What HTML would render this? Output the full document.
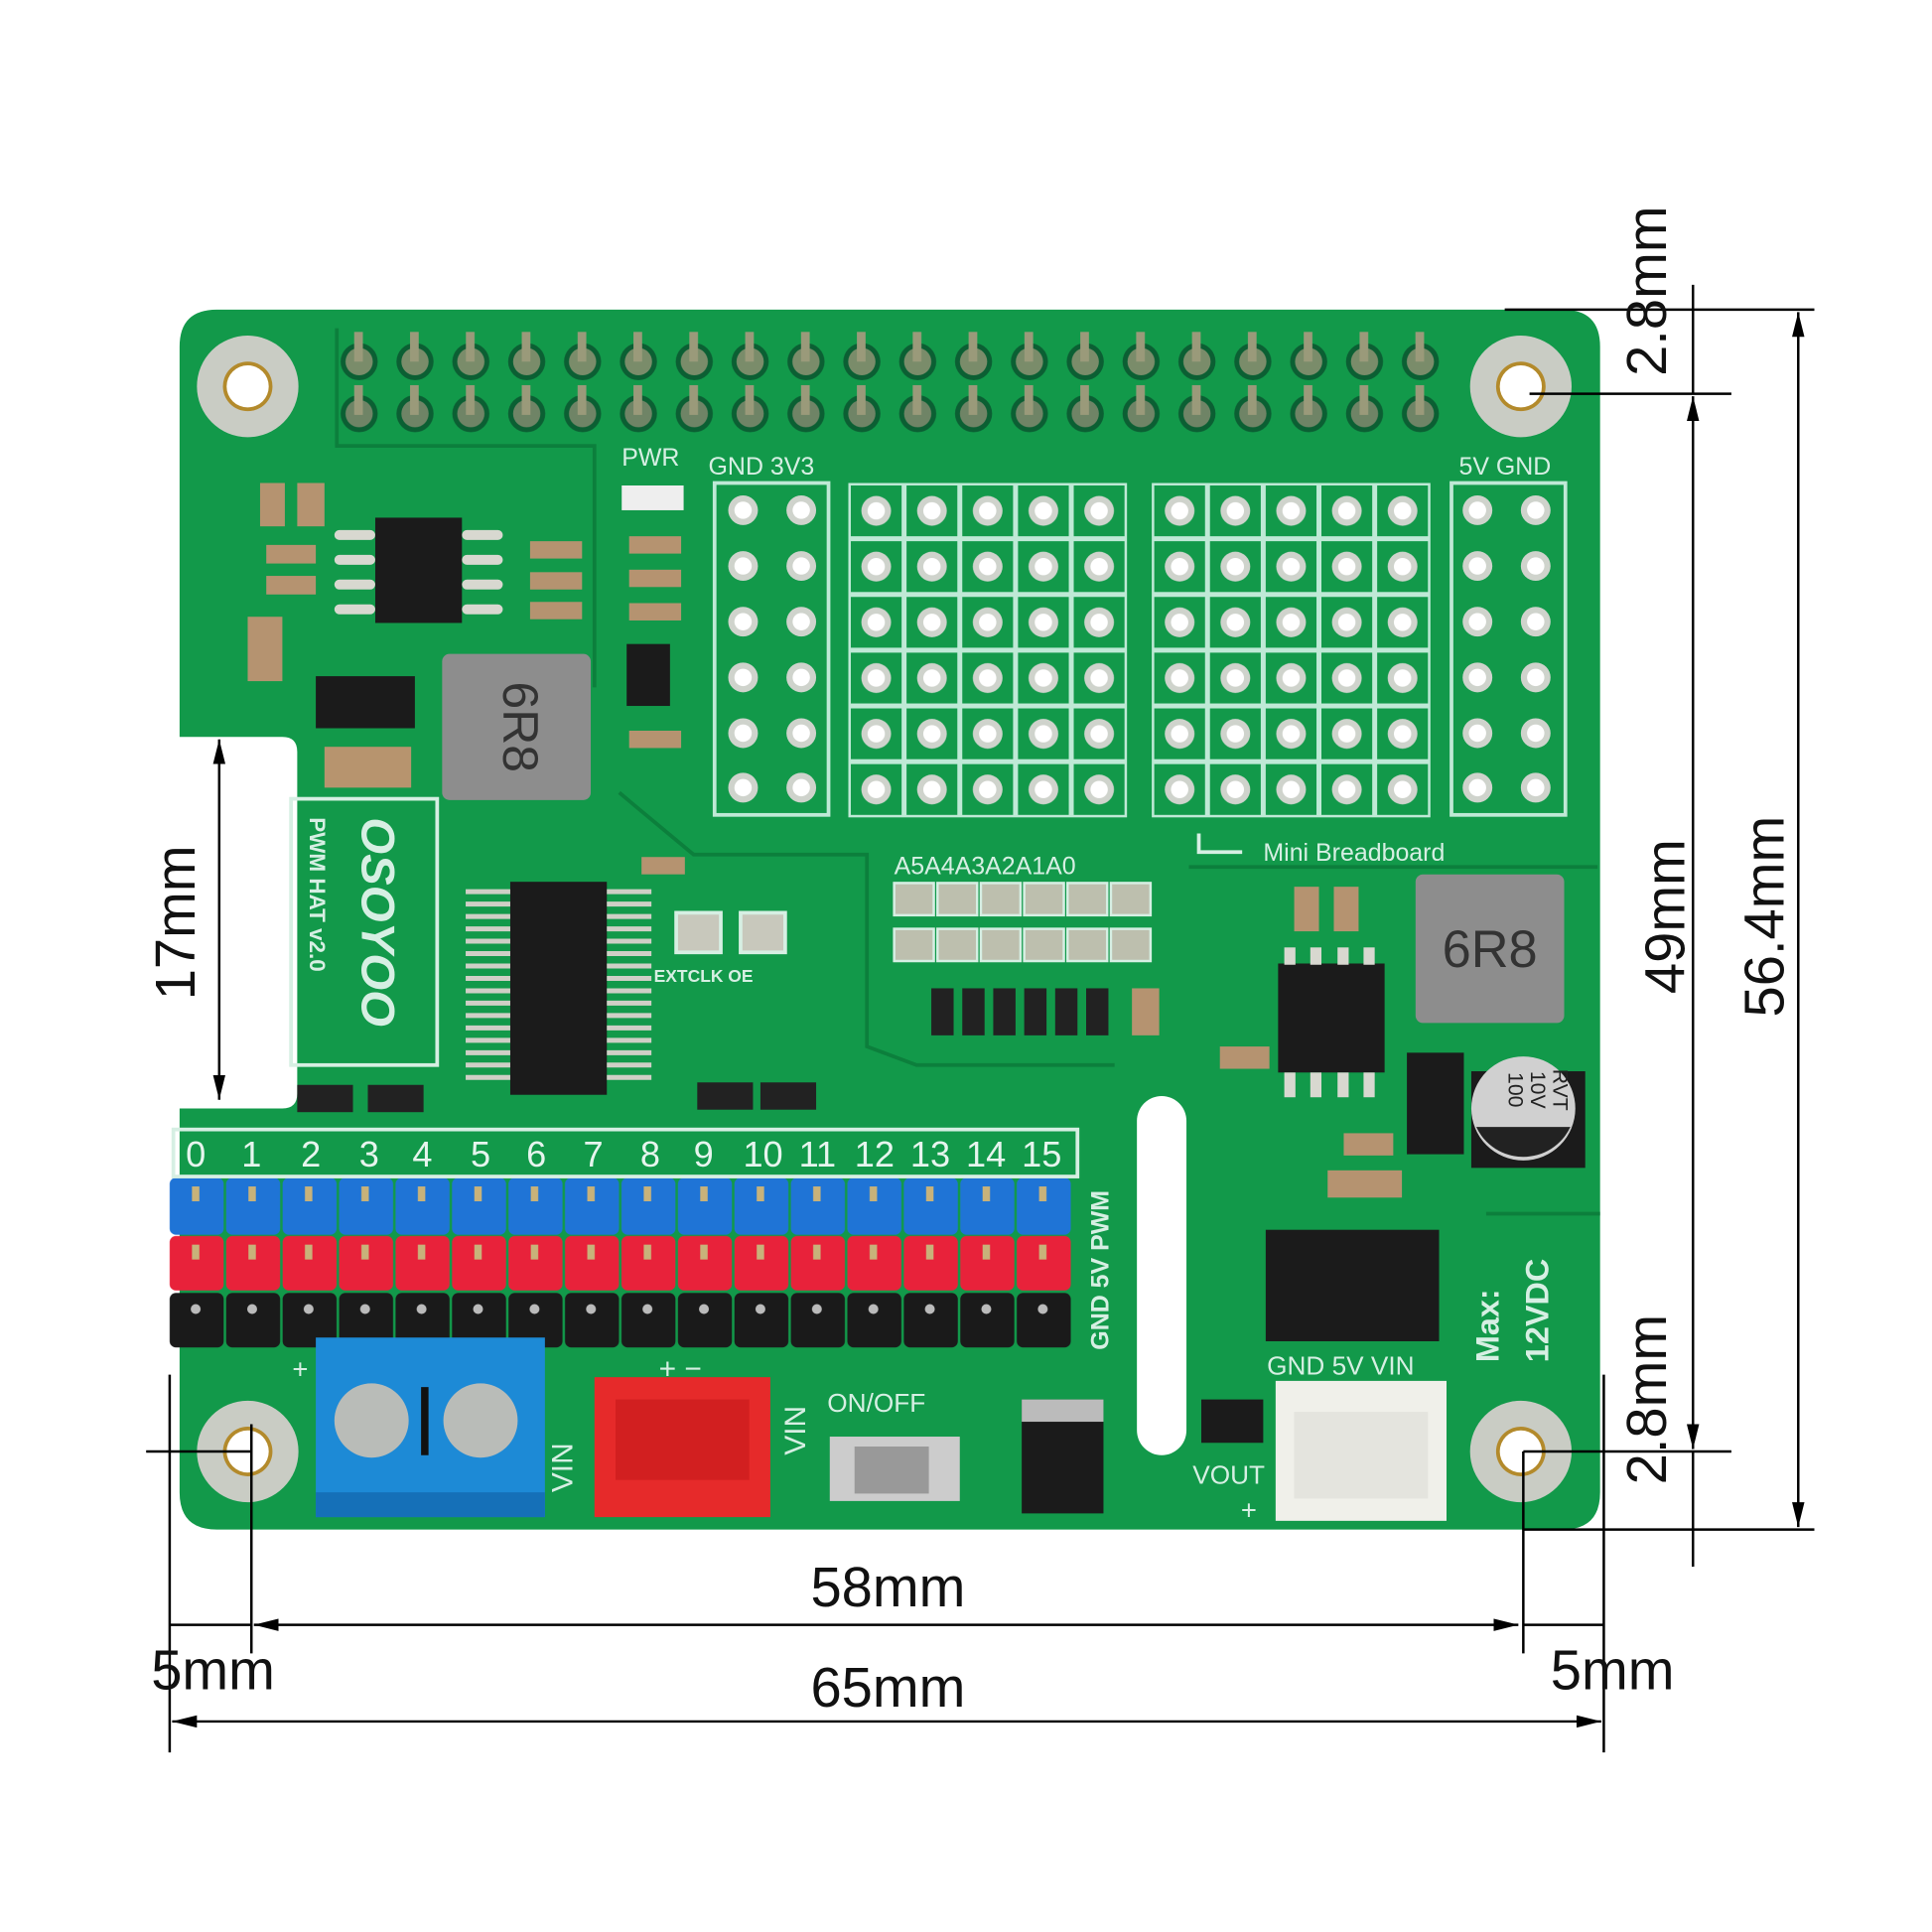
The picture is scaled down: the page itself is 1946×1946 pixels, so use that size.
<!DOCTYPE html>
<html><head><meta charset="utf-8"><style>
html,body{margin:0;padding:0;background:#fff}
svg{display:block}
text{font-family:"Liberation Sans",sans-serif}
</style></head><body>
<svg width="1946" height="1946" viewBox="0 0 1560 1560" xmlns="http://www.w3.org/2000/svg">
<defs>
<pattern id="gpio" x="268" y="265" width="45.1" height="90" patternUnits="userSpaceOnUse">
<circle cx="22" cy="27" r="15" fill="#0b5f33"/><circle cx="22" cy="27" r="11" fill="#7a8c6a"/><rect x="18" y="3" width="7" height="24" fill="#9a9a7a"/>
<circle cx="22" cy="69" r="15" fill="#0b5f33"/><circle cx="22" cy="69" r="11" fill="#6f8466"/><rect x="18" y="46" width="7" height="24" fill="#9a9a7a"/>
</pattern>
<pattern id="bb" x="685" y="390" width="45" height="45" patternUnits="userSpaceOnUse">
<rect x="1" y="1" width="43" height="43" fill="none" stroke="#bfe9d6" stroke-width="2"/>
<circle cx="22.5" cy="22.5" r="12" fill="#cfd3cc"/><circle cx="22.5" cy="22.5" r="7" fill="#fff"/>
</pattern>
<pattern id="bb2" x="930" y="390" width="45" height="45" patternUnits="userSpaceOnUse">
<rect x="1" y="1" width="43" height="43" fill="none" stroke="#bfe9d6" stroke-width="2"/>
<circle cx="22.5" cy="22.5" r="12" fill="#cfd3cc"/><circle cx="22.5" cy="22.5" r="7" fill="#fff"/>
</pattern>
<pattern id="blue" x="136" y="950" width="45.6" height="48" patternUnits="userSpaceOnUse">
<rect x="1" y="1" width="43.6" height="46" rx="5" fill="#1f74d6"/><rect x="19" y="8" width="6" height="12" fill="#c8b27a"/>
</pattern>
<pattern id="red" x="136" y="997" width="45.6" height="46" patternUnits="userSpaceOnUse">
<rect x="1" y="1" width="43.6" height="44" rx="5" fill="#e8223a"/><rect x="19" y="8" width="6" height="12" fill="#c8b27a"/>
</pattern>
<pattern id="blk" x="136" y="1043" width="45.6" height="46" patternUnits="userSpaceOnUse">
<rect x="1" y="1" width="43.6" height="44" rx="5" fill="#1a1a1a"/><circle cx="22" cy="14" r="4" fill="#bbb"/>
</pattern>
<g id="hole"><circle r="41" fill="#c9ccc4"/><circle r="20" fill="#b38a2b"/><circle r="17" fill="#fff"/></g>
<marker id="ar" viewBox="0 0 20 10" refX="20" refY="5" markerWidth="20" markerHeight="10" orient="auto-start-reverse" markerUnits="userSpaceOnUse"><path d="M0,0 L20,5 L0,10 Z" fill="#000"/></marker>
</defs>

<path d="M175,250 H1262 Q1292,250 1292,280 V1205 Q1292,1235 1262,1235 H175 Q145,1235 145,1205 V895 H228 Q240,895 240,883 V607 Q240,595 228,595 H145 V280 Q145,250 175,250 Z" fill="#12994a"/>
<g fill="none" stroke="#0c7f3c" stroke-width="3">
<path d="M272,265 V360 H480 V555"/><path d="M500,640 L560,690 H700 V845 L740,860 H900"/>
<path d="M960,700 H1290"/><path d="M1200,980 H1292"/>
</g>
<use href="#hole" x="200" y="312"/><use href="#hole" x="1228" y="312"/><use href="#hole" x="200" y="1172"/><use href="#hole" x="1228" y="1172"/>
<rect x="268" y="265" width="902" height="90" fill="url(#gpio)"/>

<rect x="577" y="390" width="92" height="268" fill="none" stroke="#bfe9d6" stroke-width="3"/>
<rect x="685" y="390" width="225" height="270" fill="url(#bb)"/>
<rect x="930" y="390" width="225" height="270" fill="url(#bb2)"/>
<rect x="1172" y="390" width="92" height="268" fill="none" stroke="#bfe9d6" stroke-width="3"/>
<g fill="#cfd3cc">
<circle cx="600" cy="412" r="12"/><circle cx="647" cy="412" r="12"/><circle cx="600" cy="457" r="12"/><circle cx="647" cy="457" r="12"/><circle cx="600" cy="502" r="12"/><circle cx="647" cy="502" r="12"/><circle cx="600" cy="547" r="12"/><circle cx="647" cy="547" r="12"/><circle cx="600" cy="592" r="12"/><circle cx="647" cy="592" r="12"/><circle cx="600" cy="636" r="12"/><circle cx="647" cy="636" r="12"/>
<circle cx="1193" cy="412" r="12"/><circle cx="1240" cy="412" r="12"/><circle cx="1193" cy="457" r="12"/><circle cx="1240" cy="457" r="12"/><circle cx="1193" cy="502" r="12"/><circle cx="1240" cy="502" r="12"/><circle cx="1193" cy="547" r="12"/><circle cx="1240" cy="547" r="12"/><circle cx="1193" cy="592" r="12"/><circle cx="1240" cy="592" r="12"/><circle cx="1193" cy="636" r="12"/><circle cx="1240" cy="636" r="12"/>
</g>
<g fill="#fff">
<circle cx="600" cy="412" r="7"/><circle cx="647" cy="412" r="7"/><circle cx="600" cy="457" r="7"/><circle cx="647" cy="457" r="7"/><circle cx="600" cy="502" r="7"/><circle cx="647" cy="502" r="7"/><circle cx="600" cy="547" r="7"/><circle cx="647" cy="547" r="7"/><circle cx="600" cy="592" r="7"/><circle cx="647" cy="592" r="7"/><circle cx="600" cy="636" r="7"/><circle cx="647" cy="636" r="7"/>
<circle cx="1193" cy="412" r="7"/><circle cx="1240" cy="412" r="7"/><circle cx="1193" cy="457" r="7"/><circle cx="1240" cy="457" r="7"/><circle cx="1193" cy="502" r="7"/><circle cx="1240" cy="502" r="7"/><circle cx="1193" cy="547" r="7"/><circle cx="1240" cy="547" r="7"/><circle cx="1193" cy="592" r="7"/><circle cx="1240" cy="592" r="7"/><circle cx="1193" cy="636" r="7"/><circle cx="1240" cy="636" r="7"/>
</g>
<g fill="#d6efe3" font-size="20">
<text x="572" y="383">GND 3V3</text><text x="1178" y="383">5V GND</text>
<text x="502" y="376">PWR</text>
<text x="1020" y="695" font-family="Liberation Mono,monospace">Mini Breadboard</text>
<text x="722" y="706">A5A4A3A2A1A0</text>
<text x="528" y="793" font-size="14" font-weight="bold">EXTCLK OE</text>
</g>
<path d="M968,673 V688 H1003" fill="none" stroke="#d6efe3" stroke-width="3"/>

<rect x="303" y="418" width="70" height="85" fill="#1b1b1b"/>
<g fill="#d8d8d0"><rect x="270" y="428" width="33" height="8" rx="4"/><rect x="270" y="448" width="33" height="8" rx="4"/><rect x="270" y="468" width="33" height="8" rx="4"/><rect x="270" y="488" width="33" height="8" rx="4"/><rect x="373" y="428" width="33" height="8" rx="4"/><rect x="373" y="448" width="33" height="8" rx="4"/><rect x="373" y="468" width="33" height="8" rx="4"/><rect x="373" y="488" width="33" height="8" rx="4"/></g>
<rect x="357" y="528" width="120" height="118" rx="6" fill="#8d8d8d"/><text x="417" y="587" font-size="40" fill="#333" text-anchor="middle" dominant-baseline="middle" transform="rotate(90 417 587)">6R8</text>
<rect x="255" y="546" width="80" height="42" fill="#1b1b1b"/>
<rect x="262" y="603" width="70" height="33" fill="#b7946e"/>
<rect x="200" y="498" width="28" height="52" fill="#b59370"/>
<rect x="506" y="520" width="35" height="50" fill="#1b1b1b"/>
<g fill="#b59370"><rect x="428" y="437" width="42" height="14"/><rect x="428" y="462" width="42" height="14"/><rect x="428" y="486" width="42" height="14"/><rect x="508" y="433" width="42" height="14"/><rect x="508" y="460" width="42" height="14"/><rect x="508" y="487" width="42" height="14"/><rect x="508" y="590" width="42" height="14"/><rect x="518" y="692" width="35" height="14"/><rect x="210" y="390" width="20" height="35"/><rect x="240" y="390" width="22" height="35"/><rect x="215" y="440" width="40" height="15"/><rect x="215" y="465" width="40" height="15"/></g>
<rect x="502" y="392" width="50" height="20" fill="#eee"/>
<rect x="235" y="645" width="118" height="215" fill="none" stroke="#d6efe3" stroke-width="3"/>
<text x="250" y="660" font-size="18" font-family="Liberation Mono,monospace" font-weight="bold" fill="#d6efe3" transform="rotate(90 250 660)">PWM HAT v2.0</text>
<text x="292" y="660" font-size="38" font-weight="bold" font-style="italic" fill="#d6efe3" transform="rotate(90 292 660)">OSOYOO</text>
<rect x="412" y="712" width="78" height="172" fill="#1b1b1b"/>
<g stroke="#cfcfc6" stroke-width="4"><path d="M376,720 H412 M376,730 H412 M376,740 H412 M376,750 H412 M376,760 H412 M376,770 H412 M376,780 H412 M376,790 H412 M376,800 H412 M376,810 H412 M376,820 H412 M376,830 H412 M376,840 H412 M376,850 H412 M376,860 H412 M376,870 H412 M490,720 H526 M490,730 H526 M490,740 H526 M490,750 H526 M490,760 H526 M490,770 H526 M490,780 H526 M490,790 H526 M490,800 H526 M490,810 H526 M490,820 H526 M490,830 H526 M490,840 H526 M490,850 H526 M490,860 H526 M490,870 H526"/></g>
<rect x="546" y="737" width="36" height="32" fill="#c8c8bc" stroke="#d6efe3" stroke-width="3"/><rect x="598" y="737" width="36" height="32" fill="#c8c8bc" stroke="#d6efe3" stroke-width="3"/>
<g fill="#bdbfae" stroke="#d6efe3" stroke-width="2"><rect x="722" y="713" width="32" height="26"/><rect x="757" y="713" width="32" height="26"/><rect x="792" y="713" width="32" height="26"/><rect x="827" y="713" width="32" height="26"/><rect x="862" y="713" width="32" height="26"/><rect x="897" y="713" width="32" height="26"/><rect x="722" y="750" width="32" height="26"/><rect x="757" y="750" width="32" height="26"/><rect x="792" y="750" width="32" height="26"/><rect x="827" y="750" width="32" height="26"/><rect x="862" y="750" width="32" height="26"/><rect x="897" y="750" width="32" height="26"/></g>
<g fill="#222"><rect x="752" y="798" width="18" height="38"/><rect x="777" y="798" width="18" height="38"/><rect x="802" y="798" width="18" height="38"/><rect x="827" y="798" width="18" height="38"/><rect x="852" y="798" width="18" height="38"/><rect x="877" y="798" width="18" height="38"/><rect x="240" y="876" width="45" height="22"/><rect x="297" y="876" width="45" height="22"/><rect x="563" y="874" width="45" height="22"/><rect x="614" y="874" width="45" height="22"/></g>
<rect x="914" y="798" width="22" height="38" fill="#b59370"/>

<rect x="1143" y="706" width="120" height="120" rx="6" fill="#8d8d8d"/><text x="1203" y="781" font-size="42" fill="#333" text-anchor="middle">6R8</text>
<rect x="1032" y="778" width="86" height="88" fill="#1b1b1b"/>
<g fill="#d8d8d0"><rect x="1037" y="765" width="9" height="14"/><rect x="1058" y="765" width="9" height="14"/><rect x="1080" y="765" width="9" height="14"/><rect x="1101" y="765" width="9" height="14"/><rect x="1037" y="866" width="9" height="20"/><rect x="1058" y="866" width="9" height="20"/><rect x="1080" y="866" width="9" height="20"/><rect x="1101" y="866" width="9" height="20"/></g>
<rect x="1136" y="850" width="46" height="82" fill="#1b1b1b"/>
<rect x="1188" y="865" width="92" height="78" fill="#1b1b1b"/><circle cx="1230" cy="895" r="42" fill="#d0d0d0"/>
<path d="M1192,910 A42,42 0 0 0 1268,910 Z" fill="#222"/>
<g font-size="17" fill="#222" text-anchor="middle"><text x="1218" y="880" transform="rotate(90 1218 880)">100</text><text x="1236" y="880" transform="rotate(90 1236 880)">10V</text><text x="1254" y="880" transform="rotate(90 1254 880)">RVT</text></g>
<g fill="#b59370"><rect x="1045" y="716" width="20" height="36"/><rect x="1077" y="716" width="20" height="36"/><rect x="985" y="845" width="40" height="18"/><rect x="1085" y="915" width="40" height="18"/><rect x="1072" y="945" width="60" height="22"/></g>
<rect x="1022" y="993" width="140" height="90" fill="#1b1b1b"/>
<rect x="918" y="885" width="40" height="290" rx="20" fill="#fff"/>
<g fill="#d6efe3" font-weight="bold" font-size="26"><text x="1210" y="1100" transform="rotate(-90 1210 1100)">Max:</text><text x="1250" y="1100" transform="rotate(-90 1250 1100)">12VDC</text></g>
<text x="1023" y="1110" font-size="21" fill="#d6efe3">GND 5V VIN</text>
<text x="963" y="1198" font-size="21" fill="#d6efe3">VOUT</text>
<text x="1002" y="1227" font-size="22" fill="#d6efe3">+</text>
<rect x="1030" y="1115" width="138" height="113" fill="#f0f0ea"/><rect x="1045" y="1140" width="108" height="70" fill="#e4e4de"/>
<rect x="970" y="1130" width="50" height="35" fill="#1b1b1b"/>

<rect x="136" y="950" width="730" height="48" fill="url(#blue)"/>
<rect x="136" y="997" width="730" height="46" fill="url(#red)"/>
<rect x="136" y="1043" width="730" height="46" fill="url(#blk)"/>
<rect x="140" y="912" width="730" height="38" fill="none" stroke="#d6efe3" stroke-width="3"/>
<g fill="#e6f5ee" font-size="29"><text x="150" y="942">0</text><text x="195" y="942">1</text><text x="243" y="942">2</text><text x="290" y="942">3</text><text x="333" y="942">4</text><text x="380" y="942">5</text><text x="425" y="942">6</text><text x="471" y="942">7</text><text x="517" y="942">8</text><text x="560" y="942">9</text><text x="600" y="942">10</text><text x="645" y="942">11</text><text x="690" y="942">12</text><text x="735" y="942">13</text><text x="780" y="942">14</text><text x="825" y="942">15</text></g>
<text x="895" y="1090" font-size="20" font-weight="bold" fill="#d6efe3" transform="rotate(-90 895 1090)">GND 5V   PWM</text>
<rect x="255" y="1080" width="185" height="145" fill="#1d8ad6"/><rect x="255" y="1205" width="185" height="20" fill="#1570b8"/>
<circle cx="300" cy="1147" r="30" fill="#b9bcb8"/><circle cx="388" cy="1147" r="30" fill="#b9bcb8"/><rect x="340" y="1120" width="6" height="55" fill="#111"/>
<rect x="480" y="1112" width="142" height="113" fill="#e62a2a"/><rect x="497" y="1130" width="108" height="65" fill="#d21f20"/>
<rect x="670" y="1160" width="105" height="52" fill="#ccc"/><rect x="690" y="1168" width="60" height="38" fill="#999"/>
<rect x="825" y="1130" width="66" height="92" fill="#1b1b1b"/><rect x="825" y="1130" width="66" height="18" fill="#bbb"/>
<text x="668" y="1140" font-size="21" fill="#d6efe3">ON/OFF</text>
<text x="462" y="1205" font-size="24" fill="#d6efe3" transform="rotate(-90 462 1205)">VIN</text>
<text x="650" y="1175" font-size="24" fill="#d6efe3" transform="rotate(-90 650 1175)">VIN</text>
<text x="532" y="1113" font-size="24" fill="#d6efe3">+ −</text>
<text x="236" y="1113" font-size="22" fill="#d6efe3">+</text>

<g stroke="#000" stroke-width="2" fill="none">
<path d="M1215,250 H1465 M1230,1235 H1465 M1235,318 H1398 M1230,1172 H1398"/>
<path d="M1452,252 V1233" marker-start="url(#ar)" marker-end="url(#ar)"/>
<path d="M1367,230 V318"/><path d="M1367,320 V1170" marker-start="url(#ar)" marker-end="url(#ar)"/><path d="M1367,1172 V1265"/>
<path d="M177,597 V888" marker-start="url(#ar)" marker-end="url(#ar)"/>
<path d="M137,1110 V1415 M203,1150 V1335 M118,1172 H203 M1230,1172 V1335 M1295,1110 V1415"/>
<path d="M205,1312 H1226" marker-start="url(#ar)" marker-end="url(#ar)"/>
<path d="M137,1312 H203 M1230,1312 H1295"/>
<path d="M139,1390 H1293" marker-start="url(#ar)" marker-end="url(#ar)"/>
</g>
<g fill="#111" font-size="45">
<text x="717" y="1297" text-anchor="middle">58mm</text>
<text x="717" y="1378" text-anchor="middle">65mm</text>
<text x="172" y="1364" text-anchor="middle">5mm</text>
<text x="1302" y="1364" text-anchor="middle">5mm</text>
<text x="157" y="745" text-anchor="middle" transform="rotate(-90 157 745)">17mm</text>
<text x="1360" y="740" text-anchor="middle" transform="rotate(-90 1360 740)">49mm</text>
<text x="1440" y="740" text-anchor="middle" transform="rotate(-90 1440 740)">56.4mm</text>
<text x="1345" y="235" text-anchor="middle" transform="rotate(-90 1345 235)">2.8mm</text>
<text x="1345" y="1130" text-anchor="middle" transform="rotate(-90 1345 1130)">2.8mm</text>
</g>
</svg>
</body></html>
